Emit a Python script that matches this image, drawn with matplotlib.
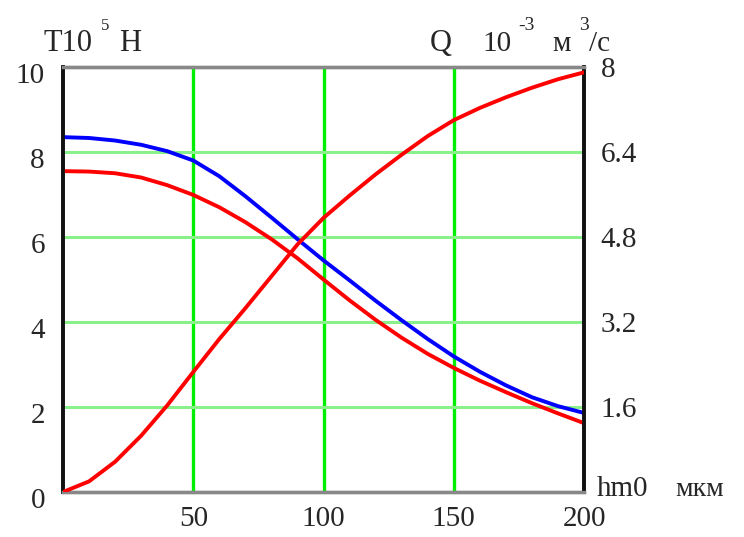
import matplotlib
matplotlib.use("Agg")
import matplotlib.pyplot as plt
import matplotlib.transforms as mtransforms

# data
hm0 = [0, 10, 20, 30, 40, 50, 60, 70, 80, 90, 100,
       110, 120, 130, 140, 150, 160, 170, 180, 190, 200]
t_blue = [8.35, 8.33, 8.27, 8.17, 8.02, 7.80, 7.43, 6.96, 6.46, 5.95, 5.45,
          4.98, 4.50, 4.04, 3.60, 3.19, 2.83, 2.51, 2.23, 2.02, 1.86]
t_red = [7.55, 7.54, 7.50, 7.40, 7.22, 6.99, 6.70, 6.35, 5.95, 5.50, 5.00,
         4.51, 4.05, 3.63, 3.25, 2.92, 2.62, 2.35, 2.09, 1.85, 1.62]
q_red = [0.0, 0.20, 0.57, 1.06, 1.63, 2.26, 2.88, 3.46, 4.06, 4.66, 5.16,
         5.58, 5.98, 6.35, 6.70, 7.00, 7.23, 7.43, 7.61, 7.77, 7.90]

x_ticks = [50, 100, 150, 200]
y_ticks = [0, 2, 4, 6, 8, 10]
q_ticks = [1.6, 3.2, 4.8, 6.4, 8]
q_labels = ['1.6', '3.2', '4.8', '6.4', '8']

plt.rcParams['font.family'] = ['Liberation Serif', 'DejaVu Serif']
txt = '#262626'

fig = plt.figure(figsize=(7.44, 5.37), dpi=100)
ax = fig.add_axes([0.0847, 0.0838, 0.7003, 0.7914])
ax.set_xlim(0, 200)
ax.set_ylim(0, 10)

# grid lines
for xv in x_ticks[:-1]:
    ax.axvline(xv, color='#00ee00', lw=2.4, zorder=1)
for yv in y_ticks[1:-1]:
    ax.axhline(yv, color='#8af08a', lw=2.2, zorder=1)

ax.plot(hm0, t_blue, color='#0000ff', lw=2.8, zorder=3, solid_joinstyle='round')
ax.plot(hm0, t_red, color='#ff0000', lw=2.8, zorder=3, solid_joinstyle='round')

ax.set_xticks(x_ticks)
ax.set_yticks(y_ticks)
ax.set_yticklabels([str(v) for v in y_ticks])
ax.tick_params(length=0, labelsize=21, colors=txt)
ax.tick_params(axis='x', pad=10)
ax.tick_params(axis='y', pad=13)
# left labels sit a bit below their grid lines in the original
shift = mtransforms.ScaledTranslation(0, -0.06, fig.dpi_scale_trans)
for lab in ax.get_yticklabels():
    lab.set_transform(lab.get_transform() + shift)

ax2 = ax.twinx()
ax2.set_ylim(0, 8)
ax2.plot(hm0, q_red, color='#ff0000', lw=2.8, zorder=3, solid_joinstyle='round')
ax2.set_yticks(q_ticks)
ax2.set_yticklabels(q_labels)
ax2.tick_params(length=0, labelsize=21, colors=txt, pad=12)

for a in (ax, ax2):
    for side in ('left', 'right'):
        a.spines[side].set_color('#111111')
        a.spines[side].set_linewidth(2.6)
    for side in ('top', 'bottom'):
        a.spines[side].set_color('#888888')
        a.spines[side].set_linewidth(2.4)

# axis captions
fig.text(0.058, 0.905, 'T10', fontsize=22, color=txt)
fig.text(0.136, 0.945, '5', fontsize=12, color=txt)
fig.text(0.160, 0.905, 'H', fontsize=22, color=txt)
fig.text(0.578, 0.905, 'Q', fontsize=22, color=txt)
fig.text(0.648, 0.905, '10', fontsize=21, color=txt)
fig.text(0.696, 0.945, '-3', fontsize=14, color=txt)
fig.text(0.742, 0.905, 'м', fontsize=21, color=txt)
fig.text(0.778, 0.945, '3', fontsize=14, color=txt)
fig.text(0.792, 0.905, '/с', fontsize=21, color=txt)
fig.text(0.802, 0.077, 'hm0', fontsize=21, color=txt)
fig.text(0.908, 0.077, 'мкм', fontsize=20, color=txt)

fig.savefig('out.png', dpi=100)
